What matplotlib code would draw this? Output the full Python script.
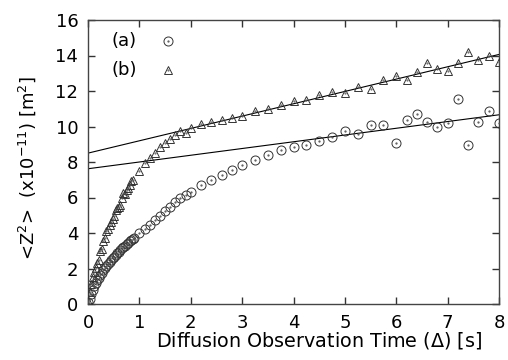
import matplotlib
matplotlib.use("Agg")
import matplotlib.pyplot as plt
import numpy as np

plt.rcParams['font.family'] = ['DejaVu Sans']
plt.rcParams['mathtext.fontset'] = 'dejavusans'

# Series (a): circles
t_a = [0.00, 0.03, 0.06, 0.09, 0.12, 0.15, 0.18, 0.21, 0.24, 0.27, 0.30, 0.33, 0.36, 0.39,
       0.42, 0.45, 0.48, 0.51, 0.54, 0.57, 0.60, 0.63, 0.66, 0.69, 0.72, 0.75, 0.78, 0.81,
       0.84, 0.87, 0.90, 1.0, 1.1, 1.2, 1.3, 1.4, 1.5, 1.6, 1.7, 1.8, 1.9, 2.0,
       2.2, 2.4, 2.6, 2.8, 3.0, 3.25, 3.5, 3.75, 4.0, 4.25, 4.5, 4.75, 5.0, 5.25, 5.5,
       5.75, 6.0, 6.2, 6.4, 6.6, 6.8, 7.0, 7.2, 7.4, 7.6, 7.8, 8.0]
z_a = [0.10, 0.30, 0.55, 0.78, 1.00, 1.17, 1.33, 1.48, 1.62, 1.76, 1.89, 2.01, 2.13, 2.24,
       2.35, 2.46, 2.57, 2.67, 2.77, 2.86, 2.95, 3.04, 3.13, 3.21, 3.29, 3.37, 3.45, 3.53,
       3.60, 3.67, 3.72, 3.98, 4.20, 4.45, 4.73, 4.98, 5.25, 5.48, 5.76, 5.99, 6.16, 6.29,
       6.70, 6.99, 7.28, 7.53, 7.81, 8.10, 8.41, 8.67, 8.83, 8.98, 9.17, 9.41, 9.75, 9.58,
       10.08, 10.08, 9.05, 10.35, 10.69, 10.23, 10.00, 10.18, 11.53, 8.96, 10.23, 10.85, 10.20]

# Series (b): triangles
t_b = [0.00, 0.03, 0.06, 0.09, 0.12, 0.15, 0.18, 0.21, 0.24, 0.27, 0.30, 0.33, 0.36, 0.39,
       0.42, 0.45, 0.48, 0.51, 0.54, 0.57, 0.60, 0.63, 0.66, 0.69, 0.72, 0.75, 0.78, 0.81,
       0.84, 0.87, 1.0, 1.1, 1.2, 1.3, 1.4, 1.5, 1.6, 1.7, 1.8, 1.9, 2.0,
       2.2, 2.4, 2.6, 2.8, 3.0, 3.25, 3.5, 3.75, 4.0, 4.25, 4.5, 4.75, 5.0, 5.25, 5.5,
       5.75, 6.0, 6.2, 6.4, 6.6, 6.8, 7.0, 7.2, 7.4, 7.6, 7.8, 8.0]
z_b = [0.15, 0.70, 1.15, 1.50, 1.80, 2.05, 2.30, 2.50, 3.00, 3.10, 3.55, 3.70, 4.10, 4.20,
       4.45, 4.60, 4.80, 4.95, 5.30, 5.40, 5.45, 5.60, 6.00, 6.25, 6.20, 6.40, 6.55, 6.70,
       6.95, 7.00, 7.51, 7.93, 8.25, 8.53, 8.85, 9.09, 9.32, 9.50, 9.74, 9.66, 9.90,
       10.14, 10.23, 10.37, 10.49, 10.61, 10.85, 11.00, 11.19, 11.44, 11.48, 11.80, 11.93,
       11.91, 12.25, 12.14, 12.62, 12.83, 12.62, 13.07, 13.60, 13.24, 13.13, 13.56, 14.22,
       13.75, 13.97, 13.65]

# Linear fits (intercept, slope)
fit_a = (7.62, 0.38)
fit_b = (8.50, 0.695)

x_ticks = [0, 1, 2, 3, 4, 5, 6, 7, 8]
y_ticks = [0, 2, 4, 6, 8, 10, 12, 14, 16]

FS = 13

fig = plt.figure(figsize=(5.08, 3.6), dpi=100)
ax = fig.add_axes([88/508, 1-304/360, 411/508, 284/360])

xl = np.array([0, 8])
ax.plot(xl, fit_b[0] + fit_b[1]*xl, color='black', lw=0.8, zorder=2)
ax.plot(xl, fit_a[0] + fit_a[1]*xl, color='black', lw=0.8, zorder=2)

mk = dict(linestyle='none', markerfacecolor='none', markeredgecolor='#333333',
          markeredgewidth=0.7, zorder=3)
ax.plot(t_a, z_a, marker='o', markersize=6.5, **mk)
ax.plot(t_b, z_b, marker='^', markersize=6.3, **mk)
ax.plot(t_a, z_a, marker='.', markersize=1.2, linestyle='none', color='#555555', zorder=3)
ax.plot(t_b, z_b, marker='.', markersize=1.0, linestyle='none', color='#555555', zorder=3)

# Legend (drawn as text + markers in axes coordinates)
ax.text(0.058, 0.925, '(a)', transform=ax.transAxes, fontsize=FS, va='center', ha='left')
ax.text(0.058, 0.825, '(b)', transform=ax.transAxes, fontsize=FS, va='center', ha='left')
ax.plot([0.195], [0.925], transform=ax.transAxes, marker='o', markersize=6.5, **mk)
ax.plot([0.195], [0.825], transform=ax.transAxes, marker='^', markersize=6.3, **mk)
ax.plot([0.195], [0.925], transform=ax.transAxes, marker='.', markersize=1.2, color='#555555')
ax.plot([0.195], [0.825], transform=ax.transAxes, marker='.', markersize=1.0, color='#555555')

ax.set_xlim(0, 8)
ax.set_ylim(0, 16)
ax.set_xticks(x_ticks)
ax.set_yticks(y_ticks)
ax.tick_params(direction='in', top=True, right=True, length=5, width=1,
               labelsize=FS, color='#333333', pad=7)
ax.tick_params(axis='x', pad=7)
for s in ax.spines.values():
    s.set_linewidth(1.0)
    s.set_color('#444444')

ax.set_xlabel('Diffusion Observation Time ($\\Delta$) [s]', fontsize=13.8)
ax.xaxis.set_label_coords(0.563, -0.092)
ax.set_ylabel('<Z$^2$>  (x10$^{-11}$) [m$^2$]', fontsize=FS)
ax.yaxis.set_label_coords(-0.122, 0.479)

fig.savefig('out.png', dpi=100)
